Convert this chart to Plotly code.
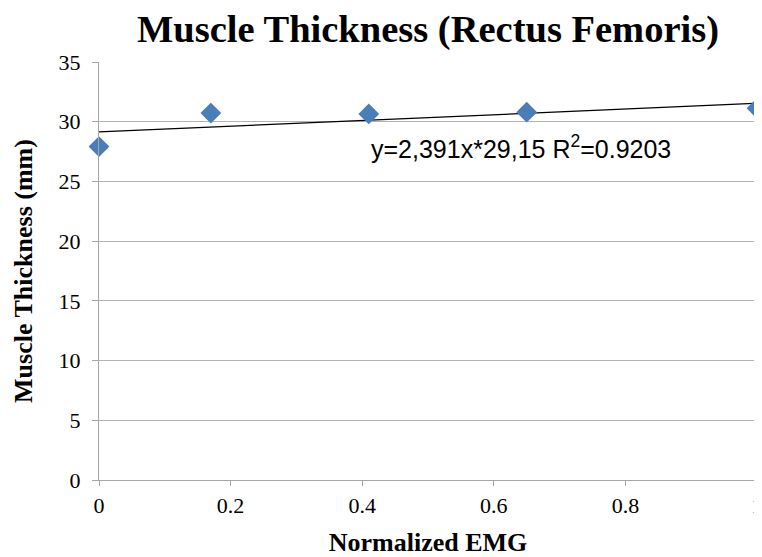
import plotly.graph_objects as go

emg = [0.0, 0.17, 0.41, 0.65, 1.0]
thickness = [27.92, 30.72, 30.65, 30.8, 31.12]
slope = 2.391
intercept = 29.15
trend_x = [0.0, 1.0]
equation = "y=2,391x*29,15 R<sup>2</sup>=0.9203"

trend_y = [intercept + slope * x for x in trend_x]

fig = go.Figure()
fig.add_trace(go.Scatter(x=trend_x, y=trend_y, mode="lines",
                         line=dict(color="black", width=1.3), hoverinfo="skip"))
fig.add_trace(go.Scatter(x=emg, y=thickness, mode="markers",
                         marker=dict(symbol="diamond", size=16, color="#4a7ebb"),
                         cliponaxis=False))

serif = "Liberation Serif, Times New Roman, serif"
fig.update_layout(
    width=754, height=549,
    margin=dict(l=91, r=5, t=54, b=77, autoexpand=False),
    paper_bgcolor="white", plot_bgcolor="white",
    showlegend=False,
    title=dict(text="<b>Muscle Thickness (Rectus Femoris)</b>", x=0.5, xref="paper",
               xanchor="center", y=0.962, yanchor="middle",
               font=dict(family=serif, size=38.5, color="black")),
    font=dict(family=serif, color="black"),
)
fig.update_xaxes(range=[0, 1], tickvals=[0, 0.2, 0.4, 0.6, 0.8, 1],
                 ticktext=["0", "0.2", "0.4", "0.6", "0.8", "1"],
                 automargin=False, ticklabeloverflow="allow",
                 showgrid=False, zeroline=False, showline=True, linecolor="#a6a6a6",
                 linewidth=1.3, ticks="outside", ticklen=5, tickcolor="#a6a6a6",
                 tickfont=dict(family=serif, size=22, color="black"),
                 title=dict(text="<b>Normalized EMG</b>", standoff=21,
                            font=dict(family=serif, size=26, color="black")))
fig.update_yaxes(range=[0, 35], dtick=5, showgrid=True, gridcolor="#b3b3b3", gridwidth=1.3,
                 automargin=False,
                 zeroline=False, showline=True, linecolor="#a6a6a6", linewidth=1.3,
                 ticks="outside", ticklen=6, tickcolor="#a6a6a6", ticklabelstandoff=7,
                 tickfont=dict(family=serif, size=22, color="black"),
                 title=dict(text="<b>Muscle Thickness (mm)</b>", standoff=18,
                            font=dict(family=serif, size=26, color="black")))
fig.add_annotation(x=0.41, y=27.9, xref="x", yref="y", text=equation, showarrow=False,
                   xanchor="left", yanchor="middle",
                   font=dict(family="Liberation Sans, Arial, sans-serif", size=25, color="black"))
fig.write_html("out.html")
